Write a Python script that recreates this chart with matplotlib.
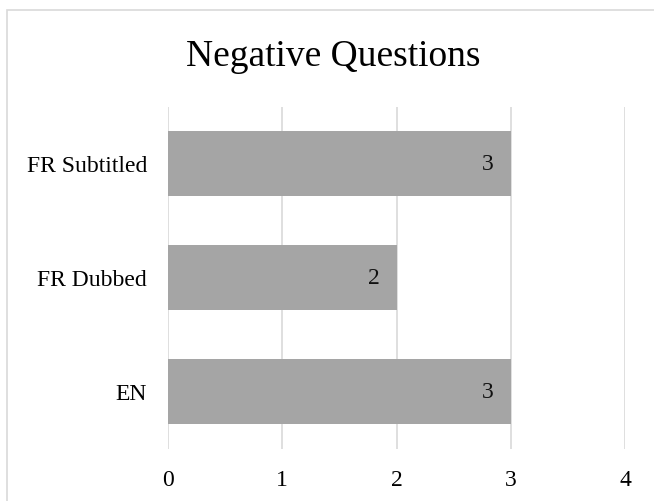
import matplotlib
matplotlib.use("Agg")
import matplotlib.pyplot as plt
from matplotlib.patches import Rectangle

categories = ["EN", "FR Dubbed", "FR Subtitled"]
values = [3, 2, 3]
xticks = [0, 1, 2, 3, 4]

plt.rcParams['font.family'] = ['Liberation Serif', 'DejaVu Serif']

W, H = 654, 502
fig = plt.figure(figsize=(W/100, H/100), dpi=100)
fig.patch.set_facecolor('white')
fig.add_artist(Rectangle((6.5/W, -0.1), 2, 1.1 - 10.5/H, transform=fig.transFigure,
                         fill=False, edgecolor='#D9D9D9', linewidth=1.2))

ax = fig.add_axes([168/W, 1-449.5/H, (625-168)/W, (449.5-107.5)/H])
ax.barh(range(len(categories)), values, height=0.57, color='#A5A5A5', zorder=2)
for i, v in enumerate(values):
    ax.text(v - 0.15, i, str(v), ha='right', va='center', fontsize=17, color='#111111', zorder=3)
ax.set_xlim(0, 4)
ax.set_ylim(-0.5, len(categories)-0.5)
ax.set_xticks(xticks)
ax.set_xticklabels([str(t) for t in xticks], fontsize=17)
ax.set_yticks(range(len(categories)))
ax.set_yticklabels(categories, fontsize=17)
ax.grid(axis='x', color='#D9D9D9', linewidth=1.2, zorder=0)
for s in ax.spines.values():
    s.set_visible(False)
ax.tick_params(axis='both', length=0)
ax.tick_params(axis='y', pad=15)
ax.tick_params(axis='x', pad=15)
fig.text(333/W, 1-66/H, "Negative Questions", ha='center', va='baseline', fontsize=27)
fig.savefig("out.png", dpi=100, facecolor='white')
